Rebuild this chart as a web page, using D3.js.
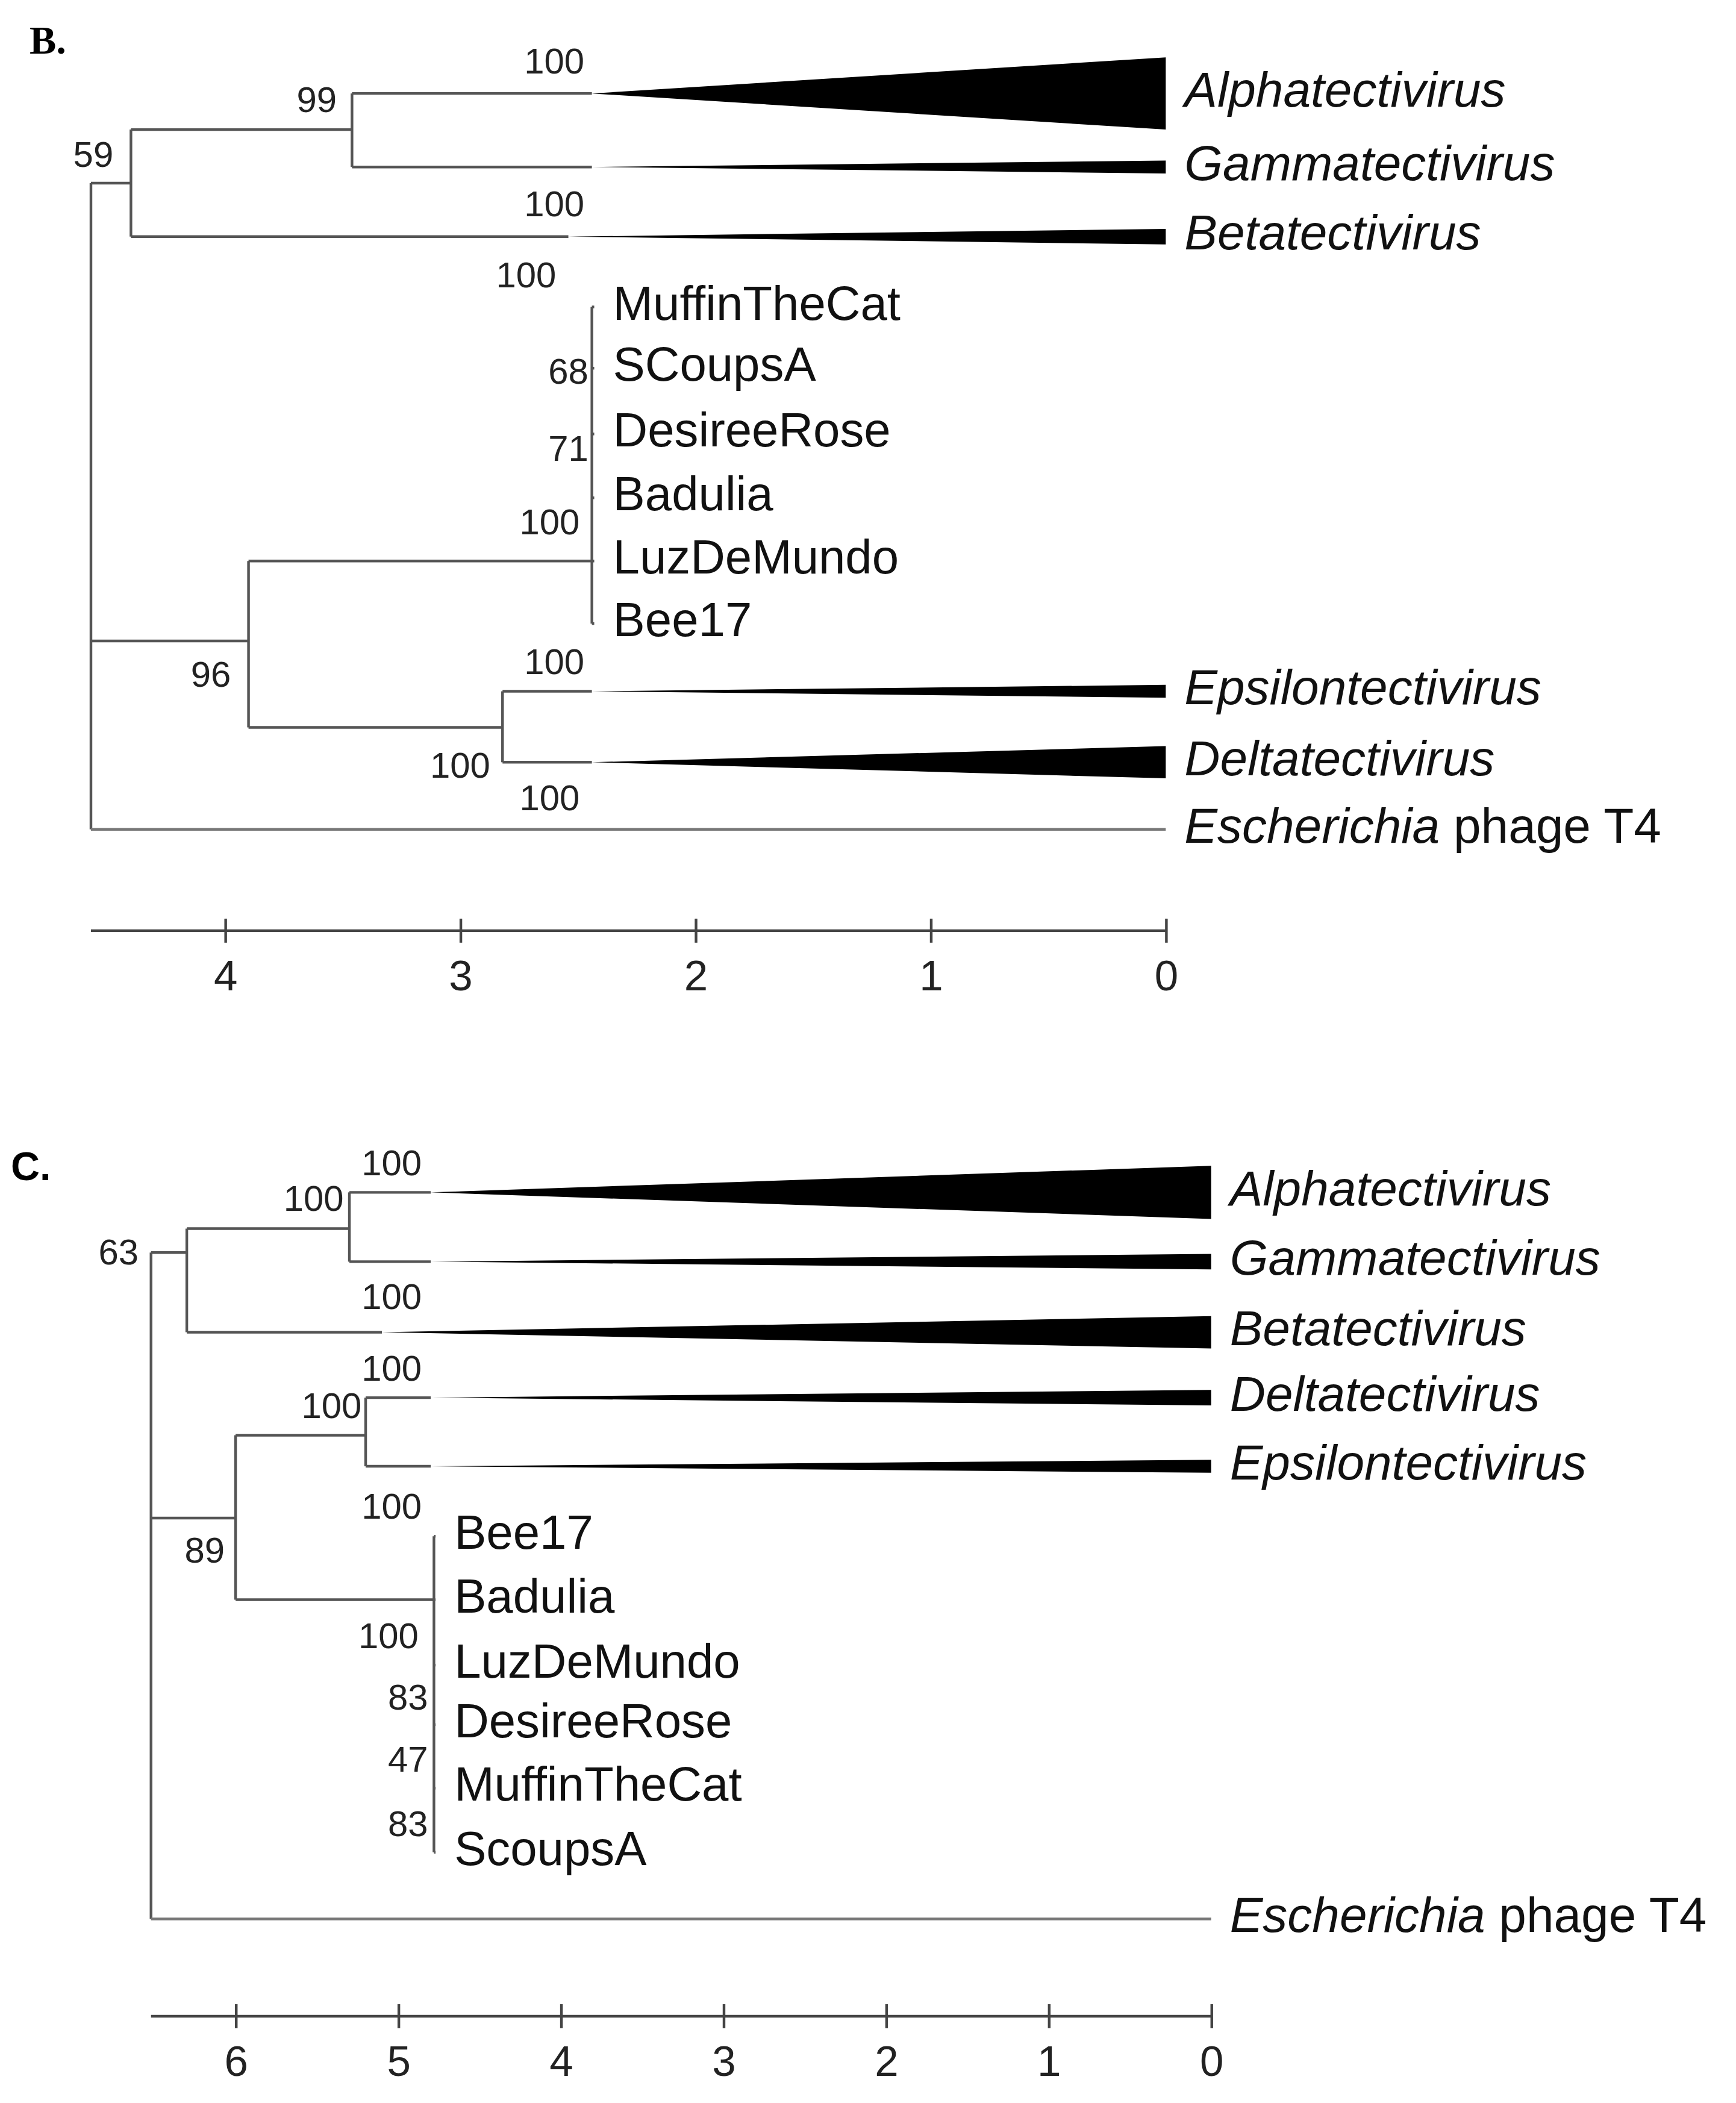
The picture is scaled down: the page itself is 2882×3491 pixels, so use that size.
<!DOCTYPE html>
<html>
<head>
<meta charset="utf-8">
<script src="https://cdn.jsdelivr.net/npm/d3@7"></script>
<style>
  body { margin: 0; background: #fff; }
  text { font-family: "Liberation Sans", Arial, sans-serif; }
</style>
</head>
<body>
<div id="chart"></div>
<script>
// ---- panel B data (h = distance on axis, row = vertical slot) ----
var treeB = [
  {id: "root", h: 4.57, row: 5.0},
  {id: "n59", parent: "root", h: 4.40, row: 1.39},
  {id: "n99", parent: "n59", h: 3.46, row: 0.56},
  {id: "Alphatectivirus", parent: "n99", h: 0, row: 0, italic: true, tri: 2.44, half: 0.56},
  {id: "Gammatectivirus", parent: "n99", h: 0, row: 1.14, italic: true, tri: 2.44, half: 0.1},
  {id: "Betatectivirus", parent: "n59", h: 0, row: 2.22, italic: true, tri: 2.54, half: 0.12},
  {id: "n96", parent: "root", h: 3.90, row: 8.49},
  {id: "cl", parent: "n96", h: 2.44, row: 7.25},
  {id: "MuffinTheCat", parent: "cl", h: 2.43, row: 3.31},
  {id: "SCoupsA", parent: "cl", h: 2.43, row: 4.26},
  {id: "DesireeRose", parent: "cl", h: 2.43, row: 5.28},
  {id: "Badulia", parent: "cl", h: 2.43, row: 6.27},
  {id: "LuzDeMundo", parent: "cl", h: 2.43, row: 7.25},
  {id: "Bee17", parent: "cl", h: 2.43, row: 8.22},
  {id: "nED", parent: "n96", h: 2.82, row: 9.83},
  {id: "Epsilontectivirus", parent: "nED", h: 0, row: 9.27, italic: true, tri: 2.44, half: 0.1},
  {id: "Deltatectivirus", parent: "nED", h: 0, row: 10.37, italic: true, tri: 2.44, half: 0.25},
  {id: "T4", parent: "root", h: 0, row: 11.41, t4: true}
];
var supportB = [
  ["100", 2.6, -0.46], ["99", 3.61, 0.14], ["59", 4.56, 0.99], ["100", 2.6, 1.76],
  ["100", 2.72, 2.86], ["68", 2.54, 4.35], ["71", 2.54, 5.55], ["100", 2.62, 6.69],
  ["96", 4.06, 9.05], ["100", 2.6, 8.86], ["100", 3.0, 10.46], ["100", 2.62, 10.97]
];
var ticksB = [4, 3, 2, 1, 0];

// ---- panel C data ----
var treeC = [
  {id: "root", h: 6.52, row: 5.0},
  {id: "n63", parent: "root", h: 6.30, row: 0.93},
  {id: "n100", parent: "n63", h: 5.30, row: 0.56},
  {id: "Alphatectivirus", parent: "n100", h: 0, row: 0, italic: true, tri: 4.8, half: 0.41},
  {id: "Gammatectivirus", parent: "n100", h: 0, row: 1.07, italic: true, tri: 4.8, half: 0.12},
  {id: "Betatectivirus", parent: "n63", h: 0, row: 2.16, italic: true, tri: 5.1, half: 0.25},
  {id: "n89", parent: "root", h: 6.00, row: 5.03},
  {id: "nDE", parent: "n89", h: 5.20, row: 3.75},
  {id: "Deltatectivirus", parent: "nDE", h: 0, row: 3.17, italic: true, tri: 4.8, half: 0.12},
  {id: "Epsilontectivirus", parent: "nDE", h: 0, row: 4.23, italic: true, tri: 4.8, half: 0.1},
  {id: "cl", parent: "n89", h: 4.78, row: 6.29},
  {id: "Bee17", parent: "cl", h: 4.77, row: 5.31},
  {id: "Badulia", parent: "cl", h: 4.77, row: 6.29},
  {id: "LuzDeMundo", parent: "cl", h: 4.77, row: 7.3},
  {id: "DesireeRose", parent: "cl", h: 4.77, row: 8.22},
  {id: "MuffinTheCat", parent: "cl", h: 4.77, row: 9.2},
  {id: "ScoupsA", parent: "cl", h: 4.77, row: 10.19},
  {id: "T4", parent: "root", h: 0, row: 11.22, t4: true}
];
var supportC = [
  ["100", 5.04, -0.41], ["100", 5.52, 0.14], ["63", 6.72, 0.97], ["100", 5.04, 1.65],
  ["100", 5.04, 2.76], ["100", 5.41, 3.34], ["100", 5.04, 4.89], ["89", 6.19, 5.57],
  ["100", 5.06, 6.89], ["83", 4.94, 7.84], ["47", 4.94, 8.8], ["83", 4.94, 9.79]
];
var ticksC = [6, 5, 4, 3, 2, 1, 0];

var svg = d3.select("#chart").append("svg")
    .attr("width", 2882).attr("height", 3491)
    .attr("viewBox", "0 0 1300 1575");

function drawPanel(tree, support, ticks, opt) {
    var g = svg.append("g");
    var x = d3.scaleLinear().domain([opt.maxH, 0]).range([opt.x0, opt.x1]);
    var y = d3.scaleLinear().domain([0, 1]).range([opt.y0, opt.y0 + opt.rowH]);
    var byId = {};
    tree.forEach(function (n) { byId[n.id] = n; });
    var lineCol = "#555";

    // vertical connectors
    tree.forEach(function (n) {
        var kids = tree.filter(function (c) { return c.parent === n.id; });
        if (!kids.length) return;
        var ext = d3.extent(kids, function (c) { return c.row; });
        g.append("line")
            .attr("x1", x(n.h)).attr("x2", x(n.h))
            .attr("y1", y(ext[0])).attr("y2", y(ext[1]))
            .attr("stroke", lineCol).attr("stroke-width", 2);
    });

    // horizontal branches + collapsed clades
    tree.forEach(function (n) {
        if (!n.parent) return;
        var p = byId[n.parent];
        var end = n.tri !== undefined ? n.tri : n.h;
        g.append("line")
            .attr("x1", x(p.h)).attr("x2", x(end))
            .attr("y1", y(n.row)).attr("y2", y(n.row))
            .attr("stroke", n.t4 ? "#777" : lineCol).attr("stroke-width", 2);
        if (n.tri !== undefined) {
            var pts = [[x(n.tri), y(n.row)], [x(0), y(n.row - n.half)], [x(0), y(n.row + n.half)]];
            g.append("polygon").attr("points", pts.join(" ")).attr("fill", "#000");
        }
        var isLeaf = !tree.some(function (c) { return c.parent === n.id; });
        if (!isLeaf) return;
        var t = g.append("text")
            .attr("x", x(n.h) + 14)
            .attr("y", y(n.row))
            .attr("dominant-baseline", "middle")
            .attr("font-size", n.h > 0 ? 36 : 37)
            .attr("fill", "#111");
        if (n.t4) {
            t.append("tspan").attr("font-style", "italic").text("Escherichia");
            t.append("tspan").text(" phage T4");
        } else {
            t.attr("font-style", n.italic ? "italic" : null).text(n.id);
        }
    });

    // bootstrap values
    g.selectAll(".bs").data(support).enter().append("text")
        .attr("class", "bs")
        .attr("x", function (d) { return x(d[1]); })
        .attr("y", function (d) { return y(d[2]); })
        .attr("text-anchor", "middle").attr("dominant-baseline", "middle")
        .attr("font-size", 27).attr("fill", "#222")
        .text(function (d) { return d[0]; });

    // scale axis
    var ax = g.append("g")
        .attr("transform", "translate(0," + opt.axisY + ")")
        .call(d3.axisBottom(x).tickValues(ticks).tickSize(0).tickPadding(22).tickFormat(d3.format("d")));
    ax.select(".domain").remove();
    ax.append("line").attr("x1", opt.x0).attr("x2", opt.x1)
        .attr("stroke", "#444").attr("stroke-width", 2);
    ax.selectAll(".tick").append("line")
        .attr("y1", -9).attr("y2", 9).attr("stroke", "#444").attr("stroke-width", 2);
    ax.selectAll(".tick text").attr("font-size", 32).attr("fill", "#222")
        .style("font-family", "Liberation Sans, Arial, sans-serif");

    svg.append("text").attr("x", opt.labX).attr("y", opt.labY)
        .attr("font-size", 30).attr("font-weight", "bold")
        .style("font-family", opt.labFont)
        .text(opt.label);
}

drawPanel(treeB, supportB, ticksB, {
    maxH: 4.57, x0: 68, x1: 873, y0: 70, rowH: 48.3, axisY: 697,
    label: "B.", labX: 22, labY: 40, labFont: "Liberation Serif, serif"
});
drawPanel(treeC, supportC, ticksC, {
    maxH: 6.52, x0: 113, x1: 907, y0: 893, rowH: 48.5, axisY: 1510,
    label: "C.", labX: 8, labY: 884, labFont: "Liberation Sans, Arial, sans-serif"
});
</script>
</body>
</html>
